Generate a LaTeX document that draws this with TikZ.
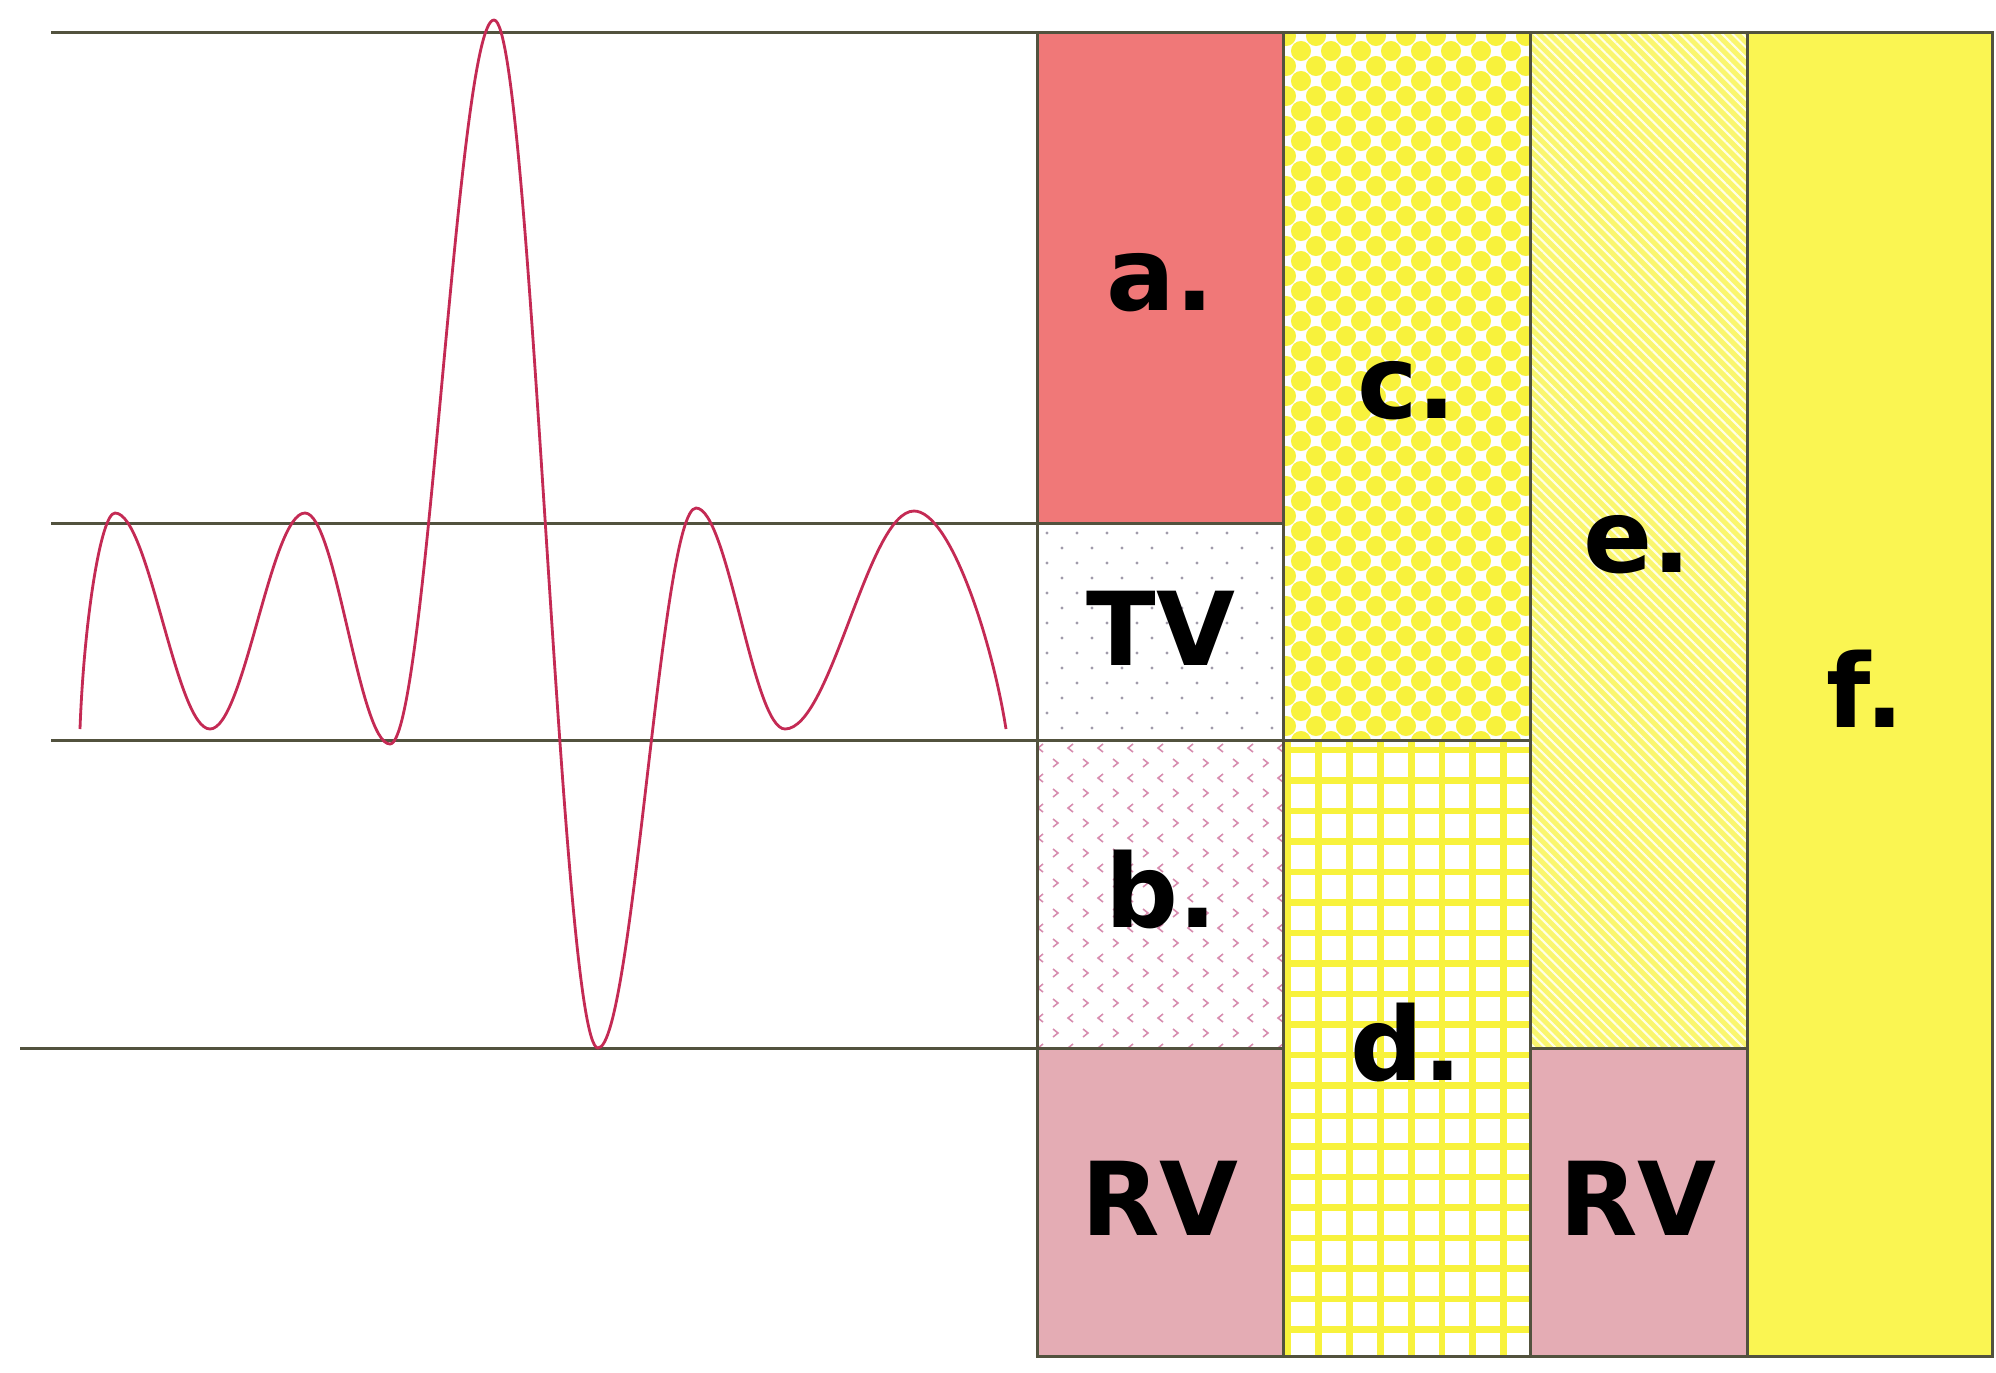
\documentclass[tikz,border=0pt]{standalone}
\usepackage{fontspec}
\newfontfamily\labfont{DejaVu Sans}
\usetikzlibrary{patterns.meta}
\definecolor{lineC}{RGB}{82,82,62}
\definecolor{waveC}{RGB}{196,42,84}
\definecolor{salmon}{RGB}{240,120,120}
\definecolor{rvpink}{RGB}{228,172,180}
\definecolor{fyellow}{RGB}{250,245,82}
\definecolor{eyellow}{RGB}{250,246,110}
\definecolor{dotyel}{RGB}{248,242,60}
\definecolor{tvdot}{RGB}{160,155,170}
\definecolor{bchev}{RGB}{215,140,175}
\tikzset{
  rule/.style={draw=lineC, line width=0.85pt},
  wave/.style={draw=waveC, line width=0.8pt},
  lab/.style={font=\labfont\bfseries\fontsize{29}{30}\selectfont, inner sep=0pt, anchor=base, text=black},
}
\begin{document}
\begin{tikzpicture}[x=0.01cm, y=-0.01cm]
\useasboundingbox (0,0) rectangle (1996,1372);
\fill[white] (0,0) rectangle (1996,1372);
% ---- fills
\fill[salmon] (1037,32) rectangle (1283,523);
\fill[white] (1037,523) rectangle (1283,1048);
\fill[rvpink] (1037,1048) rectangle (1283,1356);
\fill[white] (1283,32) rectangle (1530,1356);
\fill[eyellow] (1530,32) rectangle (1747,1048);
\fill[rvpink] (1530,1048) rectangle (1747,1356);
\fill[fyellow] (1747,32) rectangle (1992,1356);
% TV dots
\begin{scope}
\clip (1037,523) rectangle (1283,740);
\foreach \r in {0,...,14} {
  \foreach \c in {0,...,8} {
    \fill[tvdot] ({1047+\c*30+mod(\r,2)*15},{533+\r*15}) circle (0.45pt);
  }
}
\end{scope}
% b chevrons
\begin{scope}
\clip (1037,740) rectangle (1283,1048);
\foreach \r in {0,...,20} {
  \foreach \c in {0,...,8} {
    \pgfmathsetmacro{\xx}{1040+\c*30+mod(\r,2)*15}
    \pgfmathsetmacro{\yy}{748+\r*15}
    \ifodd\r
      \draw[bchev, line width=0.45pt] (\xx-2,\yy-4) -- (\xx+3,\yy) -- (\xx-2,\yy+4);
    \else
      \draw[bchev, line width=0.45pt] (\xx+3,\yy-4) -- (\xx-2,\yy) -- (\xx+3,\yy+4);
    \fi
  }
}
\end{scope}
% c dots
\begin{scope}
\clip (1283,32) rectangle (1530,740);
\foreach \r in {0,...,48} {
  \foreach \c in {0,...,9} {
    \fill[dotyel] ({1286+\c*30+mod(\r,2)*15},{36+\r*15}) circle (2.85pt);
  }
}
\end{scope}
% d grid
\begin{scope}
\clip (1283,740) rectangle (1530,1356);
\foreach \k in {0,...,7} {
  \draw[dotyel, line width=1.9pt] ({1288+\k*30.8},740) -- ({1288+\k*30.8},1356);
}
\foreach \k in {0,...,20} {
  \draw[dotyel, line width=1.9pt] (1283,{750+\k*30.5}) -- (1530,{750+\k*30.5});
}
\end{scope}
% e stripes
\fill[pattern={Lines[angle=-45,distance=2.1pt,line width=0.6pt]}, pattern color=white!90!yellow] (1530,32) rectangle (1747,1048);
% ---- borders
\draw[rule] (1037,32) rectangle (1992,1356);
\draw[rule] (1283,32) -- (1283,1356);
\draw[rule] (1530,32) -- (1530,1356);
\draw[rule] (1747,32) -- (1747,1356);
\draw[rule] (1037,523) -- (1283,523);
\draw[rule] (1037,740) -- (1530,740);
\draw[rule] (1037,1048) -- (1283,1048);
\draw[rule] (1530,1048) -- (1747,1048);
% ---- horizontal reference lines
\draw[rule] (51,32) -- (1037,32);
\draw[rule] (51,523) -- (1037,523);
\draw[rule] (51,740) -- (1037,740);
\draw[rule] (20,1048) -- (1037,1048);
% ---- wave
\draw[wave] (80,729) .. controls (84,620) and (101,513) .. (115,513)
  .. controls (149,513) and (176,729) .. (210,729)
  .. controls (244,729) and (271,513) .. (305,513)
  .. controls (336,513) and (359,744) .. (390,744)
  .. controls (427,744) and (457,20) .. (494,20)
  .. controls (531,20) and (561,1048) .. (598,1048)
  .. controls (633,1048) and (661,508) .. (696,508)
  .. controls (728,508) and (753,729) .. (785,729)
  .. controls (831,729) and (868,511) .. (914,511)
  .. controls (950,511) and (992,640) .. (1006,729);
% ---- labels
\node[lab] (la) at (1160,310) {a.};
\node[lab] (lc) at (1407,418) {c.};
\node[lab] (ltv) at (1161,665) {TV};
\node[lab] (lb) at (1161,927) {b.};
\node[lab] (ld) at (1406,1080) {d.};
\node[lab] (lrv1) at (1160,1235) {RV};
\node[lab] (lrv2) at (1638,1235) {RV};
\node[lab] (le) at (1637,572) {e.};
\node[lab] (lf) at (1865,727) {f.};
\end{tikzpicture}
\end{document}
